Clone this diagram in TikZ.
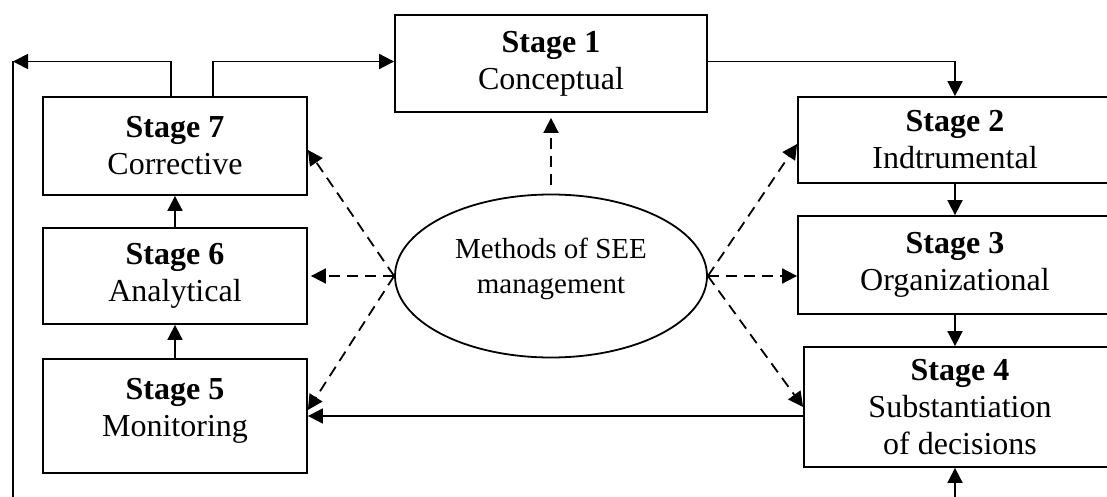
\documentclass[tikz,border=0pt]{standalone}
\usepackage{fontspec}
\setmainfont{Liberation Serif}
\usetikzlibrary{arrows.meta,shapes.geometric}

\newcommand{\liftedtext}[2]{\raisebox{#1}[\height][\depth]{\begin{tabular}{@{}c@{}}#2\end{tabular}}}

\tikzset{
  stagebox/.style={draw, inner sep=0pt, align=center, font=\fontsize{16}{18.5}\selectfont},
  methodsel/.style={draw, ellipse, inner sep=0pt, align=center, font=\fontsize{14.5}{17.5}\selectfont},
  dashlink/.style={->, dash pattern=on 5.5pt off 3.5pt}
}

\begin{document}
\begin{tikzpicture}[x=0.5pt, y=-0.5pt, line width=0.9pt, >={Triangle[length=7.5pt,width=7.5pt]}]
\useasboundingbox (0,0) rectangle (1107,497);
\node [stagebox, minimum width=156pt, minimum height=48.5pt] (s1) at (551,63.5) {\textbf{Stage 1}\\Conceptual};
\node [stagebox, minimum width=157pt, minimum height=43pt] (s2) at (955,140) {\textbf{Stage 2}\\Indtrumental};
\node [stagebox, minimum width=157pt, minimum height=49pt] (s3) at (955,265) {\textbf{Stage 3}\\Organizational};
\node [stagebox, minimum width=156pt, minimum height=60pt] (s4) at (960,407) {\textbf{Stage 4}\\Substantiation\\of decisions};
\node [stagebox, minimum width=132pt, minimum height=57pt] (s5) at (175,416) {\liftedtext{2.5pt}{\textbf{Stage 5}\\Monitoring}};
\node [stagebox, minimum width=132pt, minimum height=48pt] (s6) at (175,276) {\textbf{Stage 6}\\Analytical};
\node [stagebox, minimum width=132pt, minimum height=49pt] (s7) at (175,146) {\textbf{Stage 7}\\Corrective};
\node [methodsel, minimum width=156pt, minimum height=81.5pt] (me) at (551,276) {\liftedtext{3.5pt}{Methods of SEE\\management}};

\coordinate (lt) at (13,61.5);
\coordinate (lb) at (13,497);
\coordinate (rb) at (955,497);

\draw [->] ([xshift=-2pt]s7.north) |- (lt);
\draw (lt) -- (lb);
\draw [->] ([xshift=19pt]s7.north) |- ([yshift=1pt]s1.west);
\draw [->] ([yshift=1pt]s1.east) -| (s2.north);
\draw [->] (s2.south) -- (s3.north);
\draw [->] (s3.south) -- (s3.south |- s4.north);
\draw [->] (rb) -- (rb |- s4.south);
\draw [->] (s5.east -| s4.west) -- (s5.east);
\draw [->] (s5.north) -- (s6.south);
\draw [->] (s6.north) -- (s7.south);

\draw [dashlink, shorten <=4.5pt, shorten >=2.5pt] (me.north) -- (s1.south);
\draw [dashlink, shorten >=1.5pt] (me.west) -- (me.west -| s6.east);
\draw [dashlink] (me.west) -- ([yshift=-2pt]s7.east);
\draw [dashlink] (me.west) -- ([yshift=3pt]s5.east);
\draw [dashlink] (me.east) -- ([yshift=-2pt]s2.west);
\draw [dashlink] (me.east) -- (me.east -| s3.west);
\draw [dashlink] (me.east) -- (s4.west);
\end{tikzpicture}
\end{document}
